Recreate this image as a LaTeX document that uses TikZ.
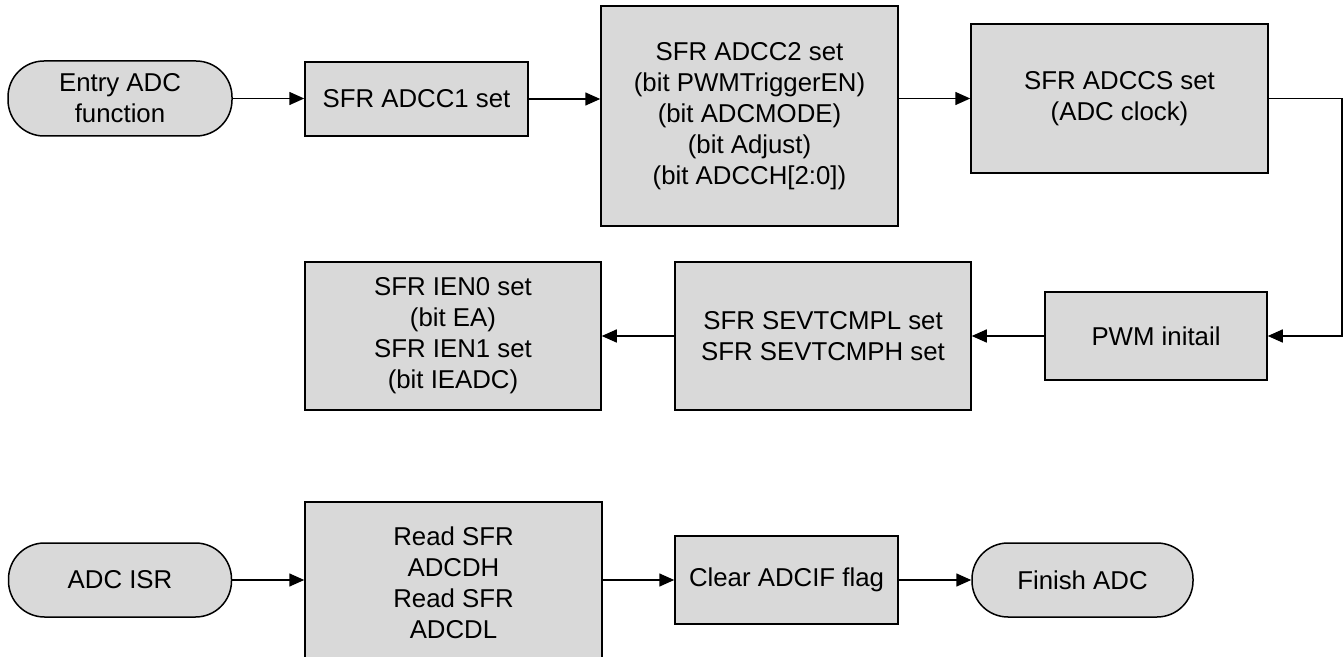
\documentclass[tikz,border=0pt]{standalone}
\usepackage{fontspec}
\setmainfont{Liberation Sans}
\usetikzlibrary{arrows.meta}
\definecolor{boxgray}{RGB}{217,217,217}
\tikzset{
  stepbox/.style={draw, fill=boxgray, line width=0.75pt, inner sep=0pt, align=center,
    font=\fontsize{12.9}{15.5}\selectfont},
  term/.style={stepbox, rounded corners=18pt},
  flow/.style={line width=0.75pt, -{Triangle[length=7.5pt,width=6.5pt]}}
}
\begin{document}
\begin{tikzpicture}[x=0.5pt,y=-0.5pt]
\useasboundingbox (0,0) rectangle (1344,657);
% ADC setup function
\node[term, minimum width=112pt, minimum height=37.5pt] (entry) at (120,98.5) {Entry ADC\\function};
\node[stepbox, minimum width=111.5pt, minimum height=37pt] (adcc1) at (416.5,99) {SFR ADCC1 set};
\node[stepbox, minimum width=148.5pt, minimum height=110pt] (adcc2) at (749.5,116) {SFR ADCC2 set\\(bit PWMTriggerEN)\\(bit ADCMODE)\\(bit Adjust)\\(bit ADCCH[2:0])};
\node[stepbox, minimum width=148.5pt, minimum height=74.5pt] (adccs) at (1119.5,98.5) {SFR ADCCS set\\(ADC clock)};
\node[stepbox, minimum width=111pt, minimum height=44pt] (pwm) at (1156,336) {PWM initail};
\node[stepbox, minimum width=148pt, minimum height=74pt] (sevt) at (823,336) {SFR SEVTCMPL set\\SFR SEVTCMPH set};
\node[stepbox, minimum width=148pt, minimum height=74pt] (ien) at (453,336) {SFR IEN0 set\\(bit EA)\\SFR IEN1 set\\(bit IEADC)};
% interrupt routine
\node[term, minimum width=111.5pt, minimum height=37pt] (isr) at (120,580) {ADC ISR};
\node[stepbox, minimum width=148.5pt, minimum height=81pt] (read) at (453.5,583) {Read SFR\\ADCDH\\Read SFR\\ADCDL};
\node[stepbox, minimum width=111.5pt, minimum height=44pt] (clear) at (786.5,580) {Clear ADCIF flag};
\node[term, minimum width=110.5pt, minimum height=37pt] (finish) at (1082.5,580) {Finish ADC};
\draw[flow] (entry.east) -- (entry.east -| adcc1.west);
\draw[flow] (adcc1.east) -- (adcc1.east -| adcc2.west);
\draw[flow] (adccs.west -| adcc2.east) -- (adccs.west);
\draw[flow] (adccs.east) -- ++(73,0) |- (pwm.east);
\draw[flow] (pwm) -- (sevt);
\draw[flow] (sevt) -- (ien);
\draw[flow] (isr) -- (isr -| read.west);
\draw[flow] (isr -| read.east) -- (clear);
\draw[flow] (clear) -- (finish);
\end{tikzpicture}
\end{document}
